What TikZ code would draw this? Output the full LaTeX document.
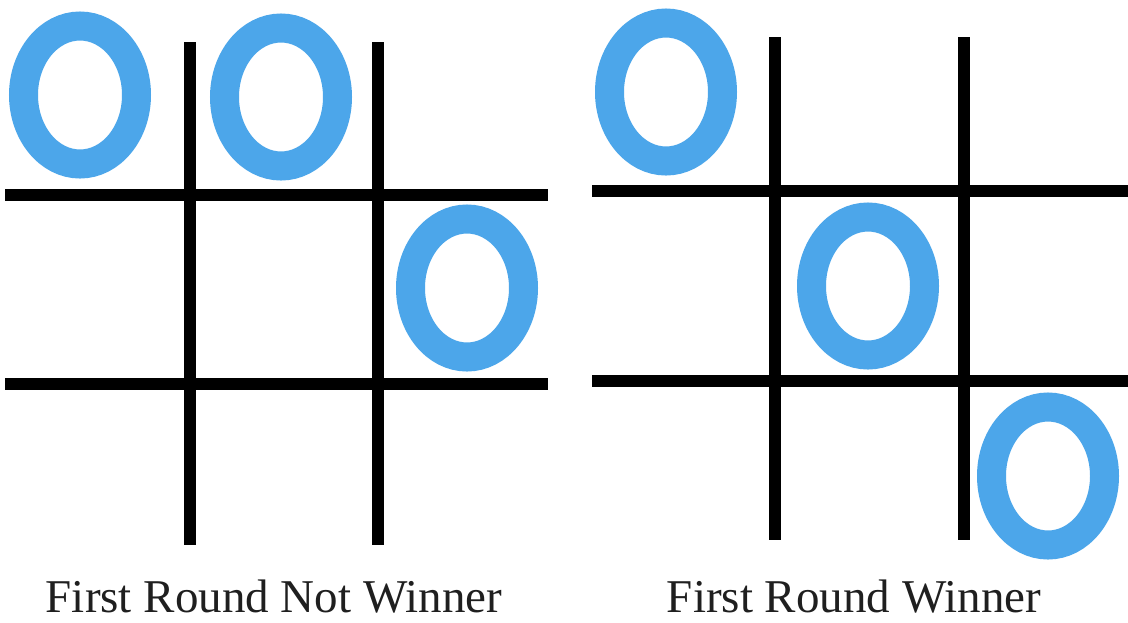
\documentclass[tikz,border=0pt]{standalone}
\usepackage{fontspec}
\setmainfont{Liberation Serif}
\definecolor{oblue}{RGB}{76,166,234}
\tikzset{
  gridline/.style={line width=12.5pt, black},
  oring/.style={draw=oblue, line width=29pt},
  caption/.style={anchor=base, inner sep=0pt, font=\fontsize{47}{47}\selectfont, text=black!88}
}
\begin{document}
\begin{tikzpicture}[x=1pt,y=-1pt]
\useasboundingbox[fill=white] (0,0) rectangle (1128,622);
% left board
\draw[gridline] (190,42) -- (190,545);
\draw[gridline] (378,42) -- (378,545);
\draw[gridline] (5,195) -- (548,195);
\draw[gridline] (5,384) -- (548,384);
\draw[oring] (80,95) ellipse [x radius=56.5, y radius=69];
\draw[oring] (281,97) ellipse [x radius=56.5, y radius=69];
\draw[oring] (467,288) ellipse [x radius=56.5, y radius=69];
\node[caption] (capL) at (274,612) {First Round Not Winner};
% right board
\draw[gridline] (775,37) -- (775,540);
\draw[gridline] (964,37) -- (964,540);
\draw[gridline] (592,191) -- (1128,191);
\draw[gridline] (592,381) -- (1128,381);
\draw[oring] (666,92) ellipse [x radius=56.5, y radius=69];
\draw[oring] (868,286) ellipse [x radius=56.5, y radius=69];
\draw[oring] (1048,476) ellipse [x radius=56.5, y radius=69];
\node[caption] (capR) at (854,612) {First Round Winner};
\end{tikzpicture}
\end{document}
